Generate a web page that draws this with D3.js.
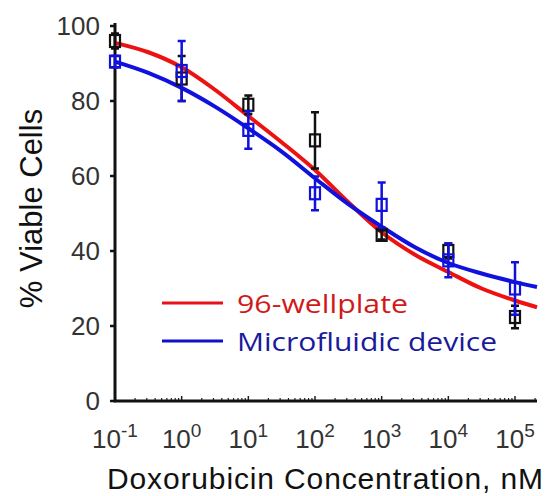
<!DOCTYPE html>
<html>
<head>
<meta charset="utf-8">
<script src="https://cdn.jsdelivr.net/npm/d3@7"></script>
<style>
  body { margin: 0; background: #fff; }
  svg text { font-family: "Liberation Sans", Arial, sans-serif; }
</style>
</head>
<body>
<div id="chart"></div>
<script>
// concentrations (nM) where the data were measured
const doses = [0.1, 1, 10, 100, 1000, 10000, 100000];

// measured viability, 96-wellplate (black squares)
const plateMean = [96, 86, 79, 69.5, 44.3, 40, 22.4];
const plateErr  = [2, 6, 2.5, 7.5, 1.2, 2, 3];

// measured viability, microfluidic device (blue squares)
const chipMean = [90.5, 88, 72.3, 55.4, 52.3, 37.5, 30];
const chipErr  = [1.5, 8, 5, 4.5, 6, 4.5, 7];

// fitted curves (log10 of dose -> % viable)
const fitLogDose = [-1, -0.5, 0, 0.5, 1, 1.5, 2, 2.5, 3, 3.5, 4, 4.5, 5, 5.33];
const plateFit   = [95.5, 93, 89, 83, 76, 69, 61.6, 53, 45, 39, 34.4, 30, 26.8, 25];
const chipFit    = [90.5, 87.5, 83.5, 78.5, 72.7, 66.5, 59.4, 52.5, 46.5, 41, 36.8, 34, 31.7, 30.4];

const yTicks = [0, 20, 40, 60, 80, 100];
const xTickExp = [-1, 0, 1, 2, 3, 4, 5];

const W = 550, H = 496;
const svg = d3.select("#chart").append("svg")
  .attr("width", W).attr("height", H);

const x = d3.scaleLog().domain([0.1, Math.pow(10, 5.33)]).range([115, 537]);
const y = d3.scaleLinear().domain([0, 100]).range([401, 26]);

// minor log ticks on x axis (inside)
const minor = [];
for (let e = -1; e <= 5; e++) {
  for (let m = 2; m <= 9; m++) {
    const v = m * Math.pow(10, e);
    if (v <= x.domain()[1]) minor.push(v);
  }
}
svg.append("g").selectAll("line").data(minor).join("line")
  .attr("x1", d => x(d)).attr("x2", d => x(d))
  .attr("y1", y(0)).attr("y2", y(0) - 3)
  .attr("stroke", "#222").attr("stroke-width", 1.2);

svg.append("g").selectAll("line").data(xTickExp).join("line")
  .attr("x1", d => x(Math.pow(10, d))).attr("x2", d => x(Math.pow(10, d)))
  .attr("y1", y(0)).attr("y2", y(0) - 5)
  .attr("stroke", "#222").attr("stroke-width", 1.5);

// y ticks (outside)
svg.append("g").selectAll("line").data(yTicks).join("line")
  .attr("x1", 110).attr("x2", 116)
  .attr("y1", d => y(d)).attr("y2", d => y(d))
  .attr("stroke", "#111").attr("stroke-width", 2.5);

// axis lines
svg.append("path")
  .attr("d", `M${x(0.1)},${y(100) - 3}V${y(0)}H${x.range()[1]}`)
  .attr("fill", "none").attr("stroke", "#111").attr("stroke-width", 3);

// y tick labels
svg.append("g").selectAll("text").data(yTicks).join("text")
  .attr("x", 100).attr("y", d => y(d) + 9)
  .attr("text-anchor", "end")
  .attr("font-size", 26).attr("fill", "#333")
  .text(d => d);

// x tick labels 10^n
const xl = svg.append("g").selectAll("text").data(xTickExp).join("text")
  .attr("x", d => x(Math.pow(10, d)))
  .attr("y", 448)
  .attr("text-anchor", "middle")
  .attr("font-size", 26).attr("fill", "#333");
xl.append("tspan").text("10");
xl.append("tspan").attr("dy", -11).attr("font-size", 19).text(d => d);

// axis titles
svg.append("text")
  .attr("transform", `translate(42,${(y(0) + y(100)) / 2 - 5}) rotate(-90)`)
  .attr("text-anchor", "middle")
  .attr("font-size", 31).attr("fill", "#111")
  .text("% Viable Cells");

svg.append("text")
  .attr("x", 325).attr("y", 489)
  .attr("text-anchor", "middle")
  .attr("font-size", 30).attr("fill", "#111")
  .attr("textLength", 436)
  .attr("lengthAdjust", "spacing")
  .text("Doxorubicin Concentration, nM");

// fitted curves
const fitLine = vals => d3.line()
  .x(d => x(Math.pow(10, d)))
  .y((d, i) => y(vals[i]))
  .curve(d3.curveCatmullRom.alpha(0.5));

svg.append("path").datum(fitLogDose)
  .attr("d", fitLine(plateFit))
  .attr("fill", "none").attr("stroke", "#ee1111").attr("stroke-width", 4);
svg.append("path").datum(fitLogDose)
  .attr("d", fitLine(chipFit))
  .attr("fill", "none").attr("stroke", "#1111dd").attr("stroke-width", 4);

// error bars + squares
function drawSeries(means, errs, color) {
  const g = svg.append("g");
  const pts = doses.map((d, i) => ({ d, m: means[i], e: errs[i] }));
  g.selectAll(".eb").data(pts).join("path")
    .attr("d", p => {
      const cx = x(p.d), y1 = y(p.m + p.e), y2 = y(p.m - p.e);
      return `M${cx},${y1}V${y2}M${cx - 4},${y1}H${cx + 4}M${cx - 4},${y2}H${cx + 4}`;
    })
    .attr("fill", "none").attr("stroke", color).attr("stroke-width", 2.5);
  g.selectAll("rect").data(pts).join("rect")
    .attr("x", p => x(p.d) - 5).attr("y", p => y(p.m) - 6)
    .attr("width", 10).attr("height", 12)
    .attr("fill", "none").attr("stroke", color).attr("stroke-width", 2.2);
}
drawSeries(plateMean, plateErr, "#111");
drawSeries(chipMean, chipErr, "#1111dd");

// legend
const legend = [
  { label: "96-wellplate", line: "#e8101a", text: "#d01a1a", y: 303, len: 171 },
  { label: "Microfluidic device", line: "#1010cc", text: "#1a1a9a", y: 341, len: 260 }
];
const lg = svg.append("g").selectAll("g").data(legend).join("g");
lg.append("line")
  .attr("x1", 162).attr("x2", 223)
  .attr("y1", d => d.y).attr("y2", d => d.y)
  .attr("stroke", d => d.line).attr("stroke-width", 3);
lg.append("text")
  .attr("x", 237).attr("y", d => d.y + 10)
  .attr("font-size", 26)
  .attr("textLength", d => d.len)
  .attr("lengthAdjust", "spacingAndGlyphs")
  .style("font-family", "'Open Sans', Lato, sans-serif")
  .attr("fill", d => d.text)
  .text(d => d.label);
</script>
</body>
</html>
